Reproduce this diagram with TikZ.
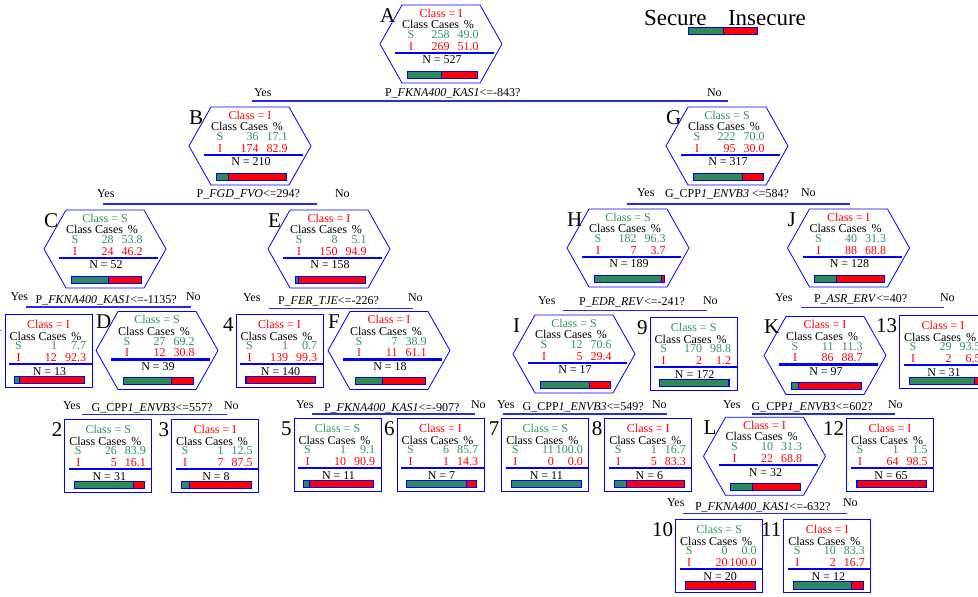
\documentclass[tikz,border=0pt]{standalone}
\usepackage{fontspec}
\setmainfont{Liberation Serif}
\definecolor{tg}{RGB}{46,150,95}
\definecolor{tr}{RGB}{255,0,0}
\definecolor{bg}{RGB}{46,139,87}
\definecolor{bl}{RGB}{0,0,255}
\definecolor{sl}{RGB}{40,40,240}
\begin{document}
\begin{tikzpicture}[x=1pt,y=-1pt,
  every node/.style={inner sep=0pt,outer sep=0pt,font=\fontsize{12}{12}\selectfont},
  big/.style={font=\fontsize{21}{21}\selectfont},
  legtxt/.style={font=\fontsize{23}{23}\selectfont},
  hexline/.style={draw=bl,line width=0.8pt},
  leafline/.style={draw=bl,line width=1pt},
  rule/.style={draw=bl,line width=2.5pt},
  barline/.style={draw=bl,line width=0.9pt},
  splitline/.style={draw=sl,line width=1.2pt}]
\useasboundingbox (0,0) rectangle (978,597);
\fill[white] (0,0) rectangle (978,597);

% ---------- hexagon (split) nodes ----------
\foreach \nm/\cx/\tp/\clr/\cl/\sC/\sP/\iC/\iP/\nn/\fr in {
 A/441/5/tr/I/258/49.0/269/51.0/527/0.49,
 B/250/107/tr/I/36/17.1/174/82.9/210/0.171,
 G/727/107/tg/S/222/70.0/95/30.0/317/0.70,
 C/105/210/tg/S/28/53.8/24/46.2/52/0.538,
 E/329/210/tr/I/8/5.1/150/94.9/158/0.051,
 H/628/209/tg/S/182/96.3/7/3.7/189/0.963,
 J/848.5/209/tr/I/40/31.3/88/68.8/128/0.313,
 D/157/311.5/tg/S/27/69.2/12/30.8/39/0.692,
 F/389/311.5/tr/I/7/38.9/11/61.1/18/0.389,
 I/574/315/tg/S/12/70.6/5/29.4/17/0.706,
 K/825/316.5/tr/I/11/11.3/86/88.7/97/0.113,
 L/764.5/417.3/tr/I/10/31.3/22/68.8/32/0.313}{
  \draw[hexline] ({\cx-39},{\tp}) -- ({\cx+39},{\tp}) -- ({\cx+61},{\tp+39})
     -- ({\cx+39},{\tp+78}) -- ({\cx-39},{\tp+78}) -- ({\cx-61},{\tp+39}) -- cycle;
  \node[big,anchor=base west] (\nm-lab) at ({\cx-61},{\tp+17}) {\nm};
  \node[anchor=base,text=\clr] (\nm-c) at ({\cx},{\tp+12}) {Class = \cl};
  \node[anchor=base] (\nm-h) at ({\cx-3},{\tp+23.5}) {Class Cases\hspace{5pt}\%};
  \node[anchor=base,text=tg] (\nm-s) at ({\cx-30},{\tp+33.5}) {S};
  \node[anchor=base east,text=tg] (\nm-sc) at ({\cx+8.5},{\tp+33.5}) {\sC};
  \node[anchor=base east,text=tg] (\nm-sp) at ({\cx+37.5},{\tp+33.5}) {\sP};
  \node[anchor=base,text=tr] (\nm-i) at ({\cx-30},{\tp+45}) {I};
  \node[anchor=base east,text=tr] (\nm-ic) at ({\cx+8.5},{\tp+45}) {\iC};
  \node[anchor=base east,text=tr] (\nm-ip) at ({\cx+37.5},{\tp+45}) {\iP};
  \draw[rule] ({\cx-46},{\tp+47.8}) -- ({\cx+53},{\tp+47.8});
  \node[anchor=base] (\nm-n) at ({\cx+1},{\tp+58.8}) {N = \nn};
  \fill[bg] ({\cx-34},{\tp+66}) rectangle ({\cx-34+70*\fr},{\tp+73.3});
  \fill[tr] ({\cx-34+70*\fr},{\tp+66}) rectangle ({\cx+36},{\tp+73.3});
  \draw[barline] ({\cx-34},{\tp+66}) rectangle ({\cx+36},{\tp+73.3});
  \draw[barline] ({\cx-34+70*\fr},{\tp+66}) -- ({\cx-34+70*\fr},{\tp+73.3});
}

% ---------- terminal (leaf) nodes ----------
\foreach \nm/\cx/\tp/\clr/\cl/\sC/\sP/\iC/\iP/\nn/\fr in {
 1/48.5/314/tr/I/1/7.7/12/92.3/13/0.077,
 4/279.5/314/tr/I/1/0.7/139/99.3/140/0.007,
 9/693.7/317/tg/S/170/98.8/2/1.2/172/0.988,
 13/943/315/tr/I/29/93.5/2/6.5/31/0.935,
 2/108.3/419/tg/S/26/83.9/5/16.1/31/0.839,
 3/215/419/tr/I/1/12.5/7/87.5/8/0.125,
 5/337.5/418/tg/S/1/9.1/10/90.9/11/0.091,
 6/440.5/418/tr/I/6/85.7/1/14.3/7/0.857,
 7/545.3/418/tg/S/11/100.0/0/0.0/11/1,
 8/648.3/418/tr/I/1/16.7/5/83.3/6/0.167,
 12/890/418/tr/I/1/1.5/64/98.5/65/0.015,
 10/719.2/519.3/tg/S/0/0.0/20/100.0/20/0,
 11/827.3/519.3/tr/I/10/83.3/2/16.7/12/0.833}{
  \draw[leafline] ({\cx-43.5},{\tp}) rectangle ({\cx+43.5},{\tp+73});
  \node[big,anchor=base east] (\nm-lab) at ({\cx-46},{\tp+17}) {\nm};
  \node[anchor=base,text=\clr] (\nm-c) at ({\cx},{\tp+14}) {Class = \cl};
  \node[anchor=base] (\nm-h) at ({\cx-3},{\tp+26}) {Class Cases\hspace{5pt}\%};
  \node[anchor=base,text=tg] (\nm-s) at ({\cx-30},{\tp+35.5}) {S};
  \node[anchor=base east,text=tg] (\nm-sc) at ({\cx+8.5},{\tp+35.5}) {\sC};
  \node[anchor=base east,text=tg] (\nm-sp) at ({\cx+37.5},{\tp+35.5}) {\sP};
  \node[anchor=base,text=tr] (\nm-i) at ({\cx-30},{\tp+47}) {I};
  \node[anchor=base east,text=tr] (\nm-ic) at ({\cx+8.5},{\tp+47}) {\iC};
  \node[anchor=base east,text=tr] (\nm-ip) at ({\cx+37.5},{\tp+47}) {\iP};
  \draw[rule] ({\cx-39.5},{\tp+49.8}) -- ({\cx+43.5},{\tp+49.8});
  \node[anchor=base] (\nm-n) at ({\cx+1},{\tp+61.5}) {N = \nn};
  \fill[bg] ({\cx-34},{\tp+62.6}) rectangle ({\cx-34+70*\fr},{\tp+69.8});
  \fill[tr] ({\cx-34+70*\fr},{\tp+62.6}) rectangle ({\cx+36},{\tp+69.8});
  \draw[barline] ({\cx-34},{\tp+62.6}) rectangle ({\cx+36},{\tp+69.8});
  \draw[barline] ({\cx-34+70*\fr},{\tp+62.6}) -- ({\cx-34+70*\fr},{\tp+69.8});
}

% ---------- split lines and questions ----------
\foreach \nm/\ly/\xa/\xb/\tb/\yb/\yx/\tx/\nx/\txt in {
 A/101/252/728/96/96/254/385/707/{P\_\textit{FKNA400\_KAS1}<=-843?},
 B/204/103/317/197/197/97/196.7/335/{P\_\textit{FGD\_FVO}<=294?},
 G/204/627/850/197/196.7/637/665/801/{G\_CPP\textit{1\_ENVB3} <=584?},
 C/307/26/191/303/300.5/10.7/35.7/186/{P\_\textit{FKNA400\_KAS1}<=-1135?},
 E/308.3/269/413/304/301.7/243/278/408/{P\_\textit{FER\_TJE}<=-226?},
 H/310.7/563/707/305/304/538/579/703/{P\_\textit{EDR\_REV}<=-241?},
 J/307.3/801/944/302/301.7/775/814/940/{P\_\textit{ASR\_ERV}<=40?},
 D/414.3/82/227/411/409.3/63/91.7/224/{G\_CPP\textit{1\_ENVB3}<=557?},
 F/414/312/475/411/408/296/324/471/{P\_\textit{FKNA400\_KAS1}<=-907?},
 I/414/503/667/410.5/408/497/522.7/652/{G\_CPP\textit{1\_ENVB3}<=549?},
 K/414/752/895/410.5/408/723/751.7/888/{G\_CPP\textit{1\_ENVB3}<=602?},
 L/513.3/683/847/510/506.5/667/695/843/{P\_\textit{FKNA400\_KAS1}<=-632?}}{
  \coordinate (\nm-sl) at (\xa,\ly);
  \coordinate (\nm-sr) at (\xb,\ly);
  \draw[splitline] (\nm-sl) -- (\nm-sr);
  \node[anchor=base west] (\nm-yes) at (\yx,\yb) {Yes};
  \node[anchor=base west] (\nm-q) at (\tx,\tb) {\txt};
  \node[anchor=base west] (\nm-no) at (\nx,\yb) {No};
}

% ---------- legend ----------
\node[legtxt,anchor=base west] (legS) at (644,25) {Secure};
\node[legtxt,anchor=base west] (legI) at (728,25) {Insecure};
\fill[bg] (688.3,27.3) rectangle (723,34.3);
\fill[tr] (723,27.3) rectangle (757.7,34.3);
\draw[barline] (688.3,27.3) rectangle (757.7,34.3);
\draw[barline] (723,27.3) -- (723,34.3);
\end{tikzpicture}
\end{document}
